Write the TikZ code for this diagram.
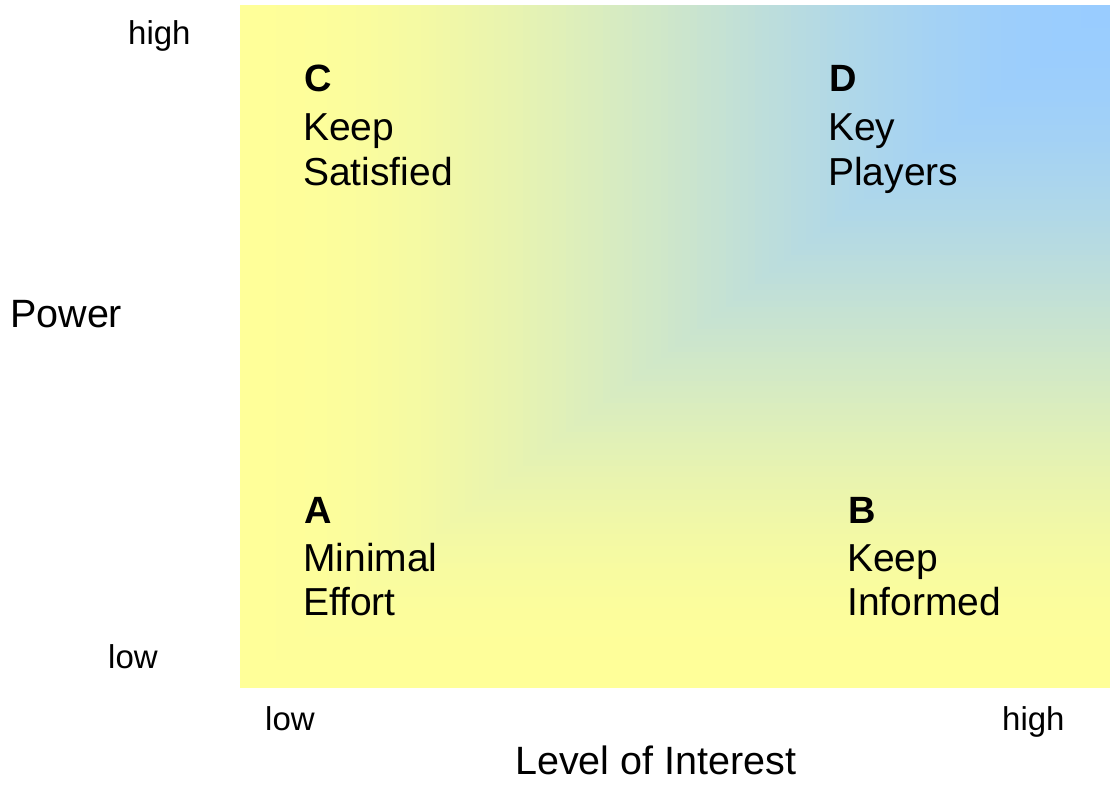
\documentclass[tikz,border=0pt]{standalone}
\usepackage{fontspec}
\setmainfont{Liberation Sans}
\definecolor{yellowC}{RGB}{255,255,153}
\definecolor{blueC}{RGB}{153,204,255}
\tikzset{
  quadtext/.style={font=\fontsize{39}{46}\selectfont, anchor=base west, inner sep=0pt, text=black},
  quadtitle/.style={quadtext, font=\fontsize{38}{46}\selectfont\bfseries},
  axistext/.style={font=\fontsize{33}{40}\selectfont, anchor=base west, inner sep=0pt, text=black},
  axistitle/.style={font=\fontsize{39.5}{46}\selectfont, anchor=base west, inner sep=0pt, text=black}
}
\begin{document}
\begin{tikzpicture}[x=1pt,y=-1pt]
\useasboundingbox[fill=white] (0,0) rectangle (1110,784);
% rectangular gradient from top-right corner (smoothstep blend)
\foreach \i in {0,...,119}{
  \pgfmathsetmacro\f{1-\i/120}
  \pgfmathtruncatemacro\b{round(100*(1-(3*\f*\f-2*\f*\f*\f)))}
  \fill[blueC!\b!yellowC] (1110-\f*870, 5+\f*683) rectangle (1110,5);
}
\coordinate (TR) at (1110,5);
% quadrant texts
\node[quadtitle] (Ct) at (304,92) {C};
\node[quadtext] (C1) at (303,140) {Keep};
\node[quadtext] (C2) at (303,185) {Satisfied};
\node[quadtitle] (Dt) at (829,92) {D};
\node[quadtext] (D1) at (828,140) {Key};
\node[quadtext] (D2) at (828,185) {Players};
\node[quadtitle] (At) at (304,523) {A};
\node[quadtext] (A1) at (303,571) {Minimal};
\node[quadtext] (A2) at (303,615) {Effort};
\node[quadtitle] (Bt) at (848,523) {B};
\node[quadtext] (B1) at (847,571) {Keep};
\node[quadtext] (B2) at (847,615) {Informed};
% axis labels
\node[axistext] (yhigh) at (128,45) {high};
\node[axistext] (ylow) at (108,668) {low};
\node[axistext] (xlow) at (265,730) {low};
\node[axistext] (xhigh) at (1002,730) {high};
\node[axistitle] (ylab) at (10,327) {Power};
\node[axistitle] (xlab) at (515,774) {Level of Interest};
\end{tikzpicture}
\end{document}
